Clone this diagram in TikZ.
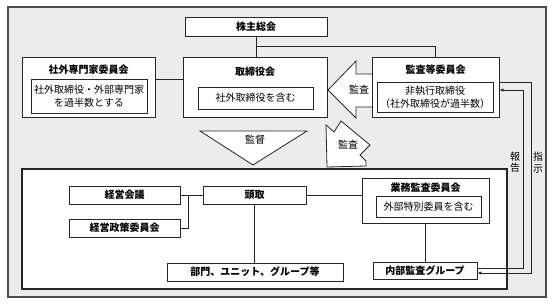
\documentclass[tikz,border=0pt]{standalone}
\usepackage{fontspec}
\newfontfamily\jpfont{Noto Sans CJK JP}
\usetikzlibrary{arrows.meta,calc}

\begin{document}
\begin{tikzpicture}[
    x=1pt, y=-1pt,
    box/.style={draw=black!85, fill=white, line width=0.9pt, inner sep=0pt, font=\jpfont\bfseries\fontsize{10}{12}\selectfont},
    inbox/.style={draw=black!85, fill=white, line width=0.9pt, inner sep=0pt, align=center, font=\jpfont\fontsize{10}{13}\selectfont},
    headtxt/.style={inner sep=0pt, font=\jpfont\bfseries\fontsize{10}{12}\selectfont},
    tag/.style={inner sep=0pt, align=center, font=\jpfont\fontsize{10}{11.5}\selectfont},
    wire/.style={draw=black!85, line width=0.8pt},
    flow/.style={wire, -{Latex[length=4pt,width=3.5pt]}}, % Report / instruction lines
    bigarrow/.style={draw=black!85, fill=white, line width=0.8pt, line join=miter}
]
    \useasboundingbox (0,0) rectangle (553,304);

    % Gray frame and lower (executive) frame
    \draw[fill=gray!15, draw=black!70, line width=1.2pt] (8,7) rectangle (546,297);
    \draw[fill=white, draw=black!85, line width=1.2pt] (22,169) rectangle (507,289);

    % Audit arrows and supervision triangle
    \draw[bigarrow] (372,74) -- (356,74) -- (356,61) -- (328,90) -- (356,118) -- (356,107) -- (372,107);
    \node[tag] (kansaA) at (359,90) {監査};
    \draw[bigarrow] (326,125) -- (334,132) -- (341,121) -- (370,145) -- (360,155) -- (366,161) -- (366,166) -- (327,167) -- cycle;
    \node[tag] (kansaB) at (348,145) {監査};
    \draw[bigarrow] (200,131) -- (307,131) -- (253,165) -- cycle;
    \node[tag] (kantoku) at (255,140) {監督};

    % Top row
    \node[box, minimum width=142pt, minimum height=19pt] (kabunushi) at (256,26.5) {株主総会};

    \node[box, minimum width=133pt, minimum height=60pt] (senmonka) at (88.5,87) {};
    \node[headtxt] (senmonkaT) at (88.5,70) {社外専門家委員会};
    \node[inbox, minimum width=116pt, minimum height=34pt] (senmonkaIn) at (89,96) {社外取締役・外部専門家\\を過半数とする};

    \node[box, minimum width=144pt, minimum height=60pt] (board) at (255,87) {};
    \node[headtxt] (boardT) at (255,72) {取締役会};
    \node[inbox, minimum width=115pt, minimum height=22pt] (boardIn) at (255.5,98) {社外取締役を含む};

    \node[box, minimum width=127pt, minimum height=60pt] (kansa) at (435.5,87) {};
    \node[headtxt] (kansaT) at (435.5,70) {監査等委員会};
    \node[inbox, minimum width=116pt, minimum height=30pt] (kansaIn) at (435,97) {非執行取締役\\（社外取締役が過半数）};

    % Executive side
    \node[box, minimum width=111pt, minimum height=18pt] (keiei) at (124.5,195) {経営会議};
    \node[box, minimum width=111pt, minimum height=18pt] (seisaku) at (124.5,228) {経営政策委員会};
    \node[box, minimum width=103pt, minimum height=18pt] (todori) at (254.5,195) {頭取};
    \node[box, minimum width=176pt, minimum height=18pt] (bumon) at (255,272) {部門、ユニット、グループ等};

    \node[box, minimum width=127pt, minimum height=45pt] (gyomu) at (425.5,200.5) {};
    \node[headtxt] (gyomuT) at (425.5,188) {業務監査委員会};
    \node[inbox, minimum width=105pt, minimum height=21pt] (gyomuIn) at (428.5,206.5) {外部特別委員を含む};

    \node[box, minimum width=104pt, minimum height=17pt] (naibu) at (425,270.5) {内部監査グループ};

    % Plain connectors
    \draw[wire] (kabunushi.south) -- (kabunushi.south |- board.north);
    \coordinate (split) at ($(kabunushi.south)!0.5!(kabunushi.south |- board.north)$);
    \draw[wire] (split) -| (kansa.north);
    \draw[wire] ([yshift=8pt]senmonka.east) -- ([yshift=8pt]board.west);
    \draw[wire] (keiei.east) -- (todori.west);
    \draw[wire] (seisaku.east) -| ([xshift=8pt]keiei.east);
    \draw[wire] (todori.east) -- (todori.east -| gyomu.west);
    \draw[wire] (todori.south) -- (todori.south |- bumon.north);
    \draw[wire] (gyomu.south) -- (gyomu.south |- naibu.north);

    % Report and instruction
    \coordinate (repLow) at (523,268);
    \coordinate (repHigh) at (523,90);
    \coordinate (insHigh) at (531,82);
    \coordinate (insLow) at (531,273);
    \draw[flow] ([yshift=2.5pt]naibu.east) -- (repLow) -- (repHigh) -- ([yshift=-3pt]kansa.east);
    \draw[flow] ([yshift=5pt]kansa.east) -- (insHigh) -- (insLow) -- ([yshift=-2.5pt]naibu.east);
    \node[tag] (houkoku) at (515,162.5) {報\\告};
    \node[tag] (shiji) at (538,162.5) {指\\示};

\end{tikzpicture}
\end{document}
